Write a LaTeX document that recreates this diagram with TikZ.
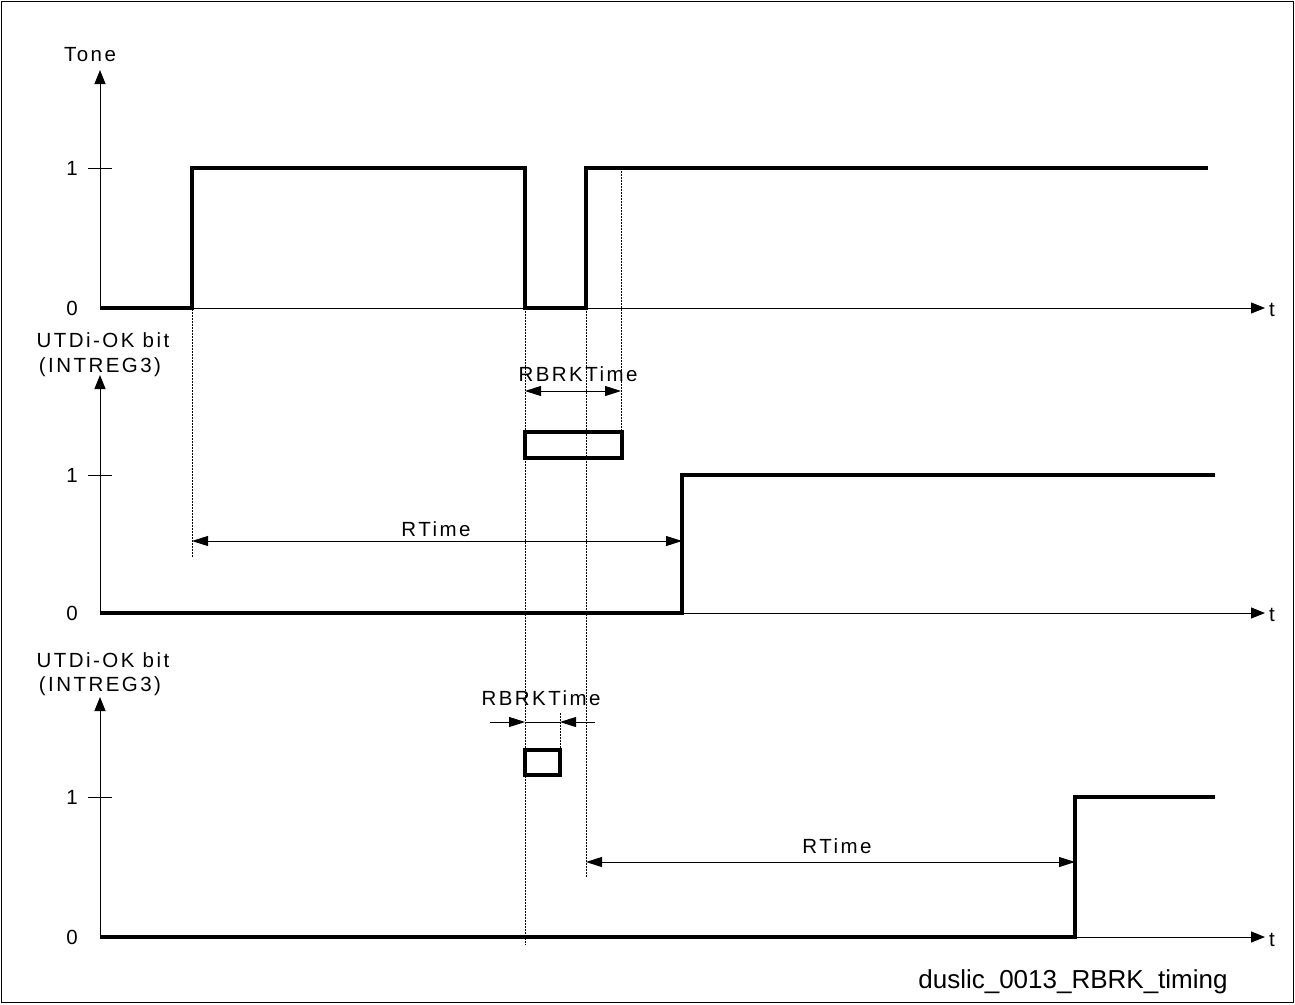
\documentclass[tikz,border=0pt]{standalone}
\usepackage{fontspec}
\setmainfont{Liberation Sans}
\newfontfamily\lblfont[LetterSpace=12]{Liberation Sans}
\usetikzlibrary{arrows.meta}
\begin{document}
\begin{tikzpicture}[x=1pt,y=-1pt,
  sig/.style={line width=3.2pt, line join=miter},
  axisline/.style={line width=1pt,-{Triangle[length=14pt,width=11pt]}},
  dim/.style={line width=0.9pt,{Triangle[length=16pt,width=10pt]}-{Triangle[length=16pt,width=10pt]}},
  dimin/.style={line width=0.9pt,-{Triangle[length=16pt,width=10pt]}},
  guide/.style={line width=0.7pt, dash pattern=on 1.5pt off 1.5pt},
  lbl/.style={inner sep=0pt, font=\lblfont\fontsize{20.5}{24}\selectfont},
  tick/.style={line width=1pt},
  boxst/.style={line width=3.2pt}
]
\useasboundingbox (0,0) rectangle (1295,1004);
\draw[line width=1.3pt] (1.5,1.5) rectangle (1293.5,1002.5);

% ---------- Panel 1 ----------
\coordinate (o1) at (100,308);
\coordinate (ytop1) at (100,70);
\coordinate (xend1) at (1265,308);
\draw[axisline] (o1) -- (ytop1);
\draw[axisline] (o1) -- (xend1);
\node[lbl] (tone) at (90,55) {Tone};
\node[lbl] (t1) at (1272,310) {t};
\node[lbl] (one1) at (72,168) {1};
\node[lbl] (zero1) at (72,308) {0};
\coordinate (tk1a) at (88,168); \coordinate (tk1b) at (112,168);
\draw[tick] (tk1a) -- (tk1b);
\draw[sig] (100,308) -- (192,308) -- (192,168) -- (525,168) -- (525,308) -- (586,308) -- (586,168) -- (1208,168);

% ---------- Panel 2 ----------
\coordinate (o2) at (100,613);
\coordinate (ytop2) at (100,375);
\coordinate (xend2) at (1265,613);
\draw[axisline] (o2) -- (ytop2);
\draw[axisline] (o2) -- (xend2);
\node[lbl] (utd2) at (103,340) {UTDi-OK bit};
\node[lbl] (reg2) at (100,367) {(INTREG3)};
\node[lbl] (t2) at (1272,615) {t};
\node[lbl] (one2) at (72,475) {1};
\node[lbl] (zero2) at (72,613) {0};
\coordinate (tk2a) at (88,475); \coordinate (tk2b) at (112,475);
\draw[tick] (tk2a) -- (tk2b);
\draw[sig] (100,613) -- (682,613) -- (682,475) -- (1215,475);
\node[draw, boxst, minimum width=97pt, minimum height=26pt, inner sep=0pt] (box2) at (573.5,445) {};
\coordinate (rb2a) at (525,391); \coordinate (rb2b) at (621,391);
\draw[dim] (rb2a) -- (rb2b);
\node[lbl] (rbrk2) at (578,374) {RBRKTime};
\coordinate (rt2a) at (192,541); \coordinate (rt2b) at (682,541);
\draw[dim] (rt2a) -- (rt2b);
\node[lbl] (rtime2) at (436,529) {RTime};

% ---------- Panel 3 ----------
\coordinate (o3) at (100,937);
\coordinate (ytop3) at (100,697);
\coordinate (xend3) at (1265,937);
\draw[axisline] (o3) -- (ytop3);
\draw[axisline] (o3) -- (xend3);
\node[lbl] (utd3) at (103,660) {UTDi-OK bit};
\node[lbl] (reg3) at (100,686) {(INTREG3)};
\node[lbl] (t3) at (1272,940) {t};
\node[lbl] (one3) at (72,797) {1};
\node[lbl] (zero3) at (72,937) {0};
\coordinate (tk3a) at (88,797); \coordinate (tk3b) at (112,797);
\draw[tick] (tk3a) -- (tk3b);
\draw[sig] (100,937) -- (1075,937) -- (1075,797) -- (1215,797);
\node[draw, boxst, minimum width=35pt, minimum height=25pt, inner sep=0pt] (box3) at (542.5,762.5) {};
\coordinate (rb3l) at (490,722); \coordinate (rb3a) at (525,722);
\coordinate (rb3b) at (560,722); \coordinate (rb3r) at (595,722);
\draw[dimin] (rb3l) -- (rb3a);
\draw[dimin] (rb3r) -- (rb3b);
\draw[line width=0.9pt] (rb3a) -- (rb3b);
\node[lbl] (rbrk3) at (541,698) {RBRKTime};
\coordinate (rt3a) at (586,862); \coordinate (rt3b) at (1075,862);
\draw[dim] (rt3a) -- (rt3b);
\node[lbl] (rtime3) at (837,846) {RTime};

% ---------- guide lines ----------
\draw[guide] (192,168) -- (192,557);
\draw[guide] (525,308) -- (525,945);
\draw[guide] (586,308) -- (586,878);
\draw[guide] (621,168) -- (621,458);
\draw[guide] (560,713) -- (560,750);

\node[inner sep=0pt, font=\fontsize{26}{30}\selectfont] (foot) at (1073,982) {duslic\_0013\_RBRK\_timing};
\end{tikzpicture}
\end{document}
